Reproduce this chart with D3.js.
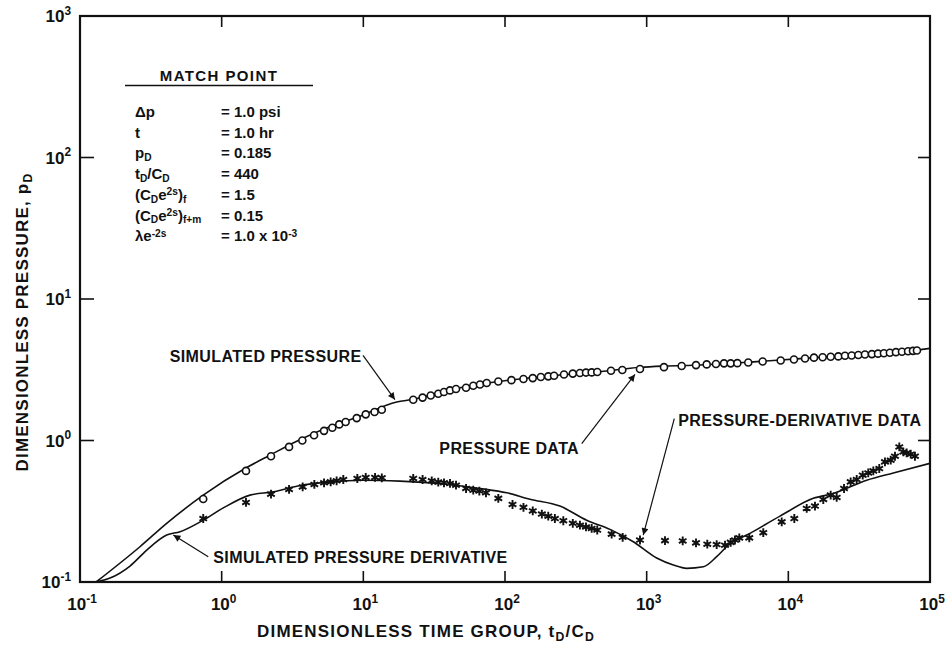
<!DOCTYPE html>
<html><head><meta charset="utf-8">
<script src="https://cdn.jsdelivr.net/npm/d3@7"></script>
<style>
html,body{margin:0;padding:0;background:#fff;}
svg text{font-family:"Liberation Sans",Arial,Helvetica,sans-serif;font-weight:bold;fill:#111;}
</style></head>
<body>
<svg id="chart" width="951" height="651"></svg>
<script>
// ---------------- DATA ----------------
const xTickExps = [-1, 0, 1, 2, 3, 4, 5];
const yTickExps = [-1, 0, 1, 2, 3];

const pressureT = [0.741,1.485,2.23,2.99,3.71,4.49,5.28,6.04,6.76,7.50,8.98,10.4,12.0,13.5,22.5,26.2,29.9,33.8,37.1,40.9,45.1,53.1,59.7,66.6,74.3,89.7,111,135,157,179,202,222,261,301,338,373,409,448,560,673,897,1325,1766,2230,2653,3085,3516,3918,4365,5212,6590,8830,10960,13120,15170,17470,19900,22540,25120,28000,31190,34750,38900,42950,47300,52100,57500,63400,70000,75800,80900];
const pressurePD = [0.386,0.610,0.774,0.901,1.00,1.09,1.17,1.23,1.30,1.35,1.44,1.53,1.59,1.65,1.94,2.01,2.08,2.14,2.20,2.26,2.31,2.36,2.44,2.49,2.55,2.61,2.67,2.72,2.76,2.81,2.84,2.87,2.93,2.97,3.00,3.02,3.03,3.05,3.11,3.15,3.20,3.30,3.36,3.41,3.45,3.47,3.51,3.51,3.52,3.56,3.62,3.68,3.74,3.80,3.85,3.88,3.91,3.93,3.97,3.99,4.02,4.05,4.08,4.11,4.14,4.17,4.21,4.24,4.27,4.30,4.33];

const derivT = [0.741,1.485,2.23,2.99,3.73,4.51,5.28,5.88,6.48,7.22,9.07,10.4,12.1,13.5,22.5,26.2,30.4,33.8,37.1,40.9,45.1,53.1,59.7,65.9,73.4,89.7,113,135,157,182,202,225,258,301,338,373,409,448,566,677,897,1347,1796,2230,2679,3120,3573,3918,4200,4506,5300,6654,8980,11020,13480,15420,17650,19900,21950,24720,27540,30380,33500,36650,39800,43850,48100,52800,56600,60700,64800,68400,73100,78300];
const derivPD = [0.281,0.365,0.418,0.451,0.470,0.489,0.502,0.510,0.519,0.530,0.539,0.548,0.548,0.545,0.539,0.530,0.519,0.508,0.502,0.497,0.483,0.458,0.446,0.439,0.427,0.390,0.353,0.337,0.318,0.302,0.292,0.281,0.271,0.260,0.252,0.245,0.239,0.233,0.218,0.207,0.198,0.196,0.195,0.189,0.185,0.184,0.182,0.1905,0.198,0.205,0.205,0.223,0.266,0.281,0.331,0.344,0.383,0.411,0.396,0.458,0.510,0.530,0.569,0.590,0.610,0.634,0.706,0.726,0.774,0.901,0.830,0.817,0.800,0.774];

const simPT = [0.130,0.265,0.409,0.741,1.502,2.19,3.39,5.51,8.98,17.2,22.4,40.9,92.2,208,468,897,1325,2380,5360,12080,27230,61400,100000];
const simPPD = [0.1,0.1775,0.2595,0.411,0.644,0.787,0.988,1.226,1.452,1.871,1.954,2.28,2.62,2.86,3.06,3.29,3.36,3.42,3.58,3.79,3.99,4.23,4.48];

const simDT = [0.128,0.163,0.2255,0.296,0.409,0.508,0.741,1.027,1.585,2.315,3.39,5.82,10.0,18.15,38.8,66.6,102.8,150,244,377,551,805,1177,1542,1917,2512,3120,3768,5360,8730,15000,20760,35730,55080,100000];
const simDPD = [0.1,0.1067,0.1297,0.168,0.2146,0.2265,0.2735,0.334,0.411,0.4335,0.4755,0.510,0.524,0.516,0.491,0.458,0.427,0.385,0.344,0.2735,0.2355,0.1924,0.1477,0.1318,0.1249,0.128,0.151,0.182,0.2207,0.292,0.390,0.422,0.524,0.590,0.69];

// annotations: [text, textT, textPD, anchor, arrowFromT, arrowFromPD, arrowToT, arrowToPD]
const annotations = [
  ["SIMULATED PRESSURE", 9.7, 3.58, "end", 9.95, 3.99, 16.7, 1.945],
  ["PRESSURE DATA", 34.4, 0.809, "start", 348, 0.952, 827, 2.93],
  ["PRESSURE-DERIVATIVE DATA", 1671, 1.266, "start", 1567, 1.429, 946, 0.2146],
  ["SIMULATED PRESSURE DERIVATIVE", 0.873, 0.1355, "start", 0.804, 0.151, 0.456, 0.2146]
];

const matchTitle = "MATCH POINT";
const matchLabels = [
  [["Δp",0]],
  [["t",0]],
  [["p",0],["D",1]],
  [["t",0],["D",1],["/C",0],["D",1]],
  [["(C",0],["D",1],["e",0],["2s",2],[")",0],["f",1]],
  [["(C",0],["D",1],["e",0],["2s",2],[")",0],["f+m",1]],
  [["λe",0],["-2s",2]]
];
const matchValues = [
  [["= 1.0 psi",0]],
  [["= 1.0 hr",0]],
  [["= 0.185",0]],
  [["= 440",0]],
  [["= 1.5",0]],
  [["= 0.15",0]],
  [["= 1.0 x 10",0],["-3",2]]
];

// ---------------- CHART ----------------
const svg = d3.select("#chart");
const L = 80, R = 930, T = 16, B = 582;
const x = d3.scaleLog().domain([0.1, 1e5]).range([L, R]);
const y = d3.scaleLog().domain([0.1, 1e3]).range([B, T]);

function richText(sel, parts, size, subScale, subDy, supDy) {
  const ss = subScale || 0.72;
  const sb = subDy === undefined ? 0.3 : subDy;
  const sp = supDy === undefined ? 0.42 : supDy;
  parts.forEach(([s, k]) => {
    const ts = sel.append("tspan").text(s);
    if (k === 1) ts.attr("font-size", size * ss).attr("dy", size * sb);
    else if (k === 2) ts.attr("font-size", size * ss).attr("dy", -size * sp);
    else ts.attr("font-size", size);
  });
  let shift = 0;
  sel.selectAll("tspan").each(function() {
    const d = +d3.select(this).attr("dy") || 0;
    if (d === 0 && shift !== 0) { d3.select(this).attr("dy", -shift); shift = 0; }
    else if (d !== 0) { if (shift !== 0) { d3.select(this).attr("dy", d - shift); } shift = d; }
  });
}

// frame
svg.append("rect").attr("x", L).attr("y", T).attr("width", R - L).attr("height", B - T)
  .attr("fill", "none").attr("stroke", "#111").attr("stroke-width", 2.2);

const xt = xTickExps.map(e => Math.pow(10, e));
const yt = yTickExps.map(e => Math.pow(10, e));
const tl = 11;
svg.append("g").selectAll("line").data(xt.slice(1, -1)).join("line")
  .attr("x1", d => x(d)).attr("x2", d => x(d)).attr("y1", B).attr("y2", B - tl)
  .attr("stroke", "#111").attr("stroke-width", 1.6);
svg.append("g").selectAll("line").data(xt.slice(1, -1)).join("line")
  .attr("x1", d => x(d)).attr("x2", d => x(d)).attr("y1", T).attr("y2", T + tl)
  .attr("stroke", "#111").attr("stroke-width", 1.6);
svg.append("g").selectAll("line").data(yt.slice(1, -1)).join("line")
  .attr("y1", d => y(d)).attr("y2", d => y(d)).attr("x1", L).attr("x2", L + tl + 3)
  .attr("stroke", "#111").attr("stroke-width", 1.6);
svg.append("g").selectAll("line").data(yt.slice(1, -1)).join("line")
  .attr("y1", d => y(d)).attr("y2", d => y(d)).attr("x1", R).attr("x2", R - tl - 1)
  .attr("stroke", "#111").attr("stroke-width", 1.6);

// tick labels
xTickExps.forEach(e => {
  const t = svg.append("text").attr("x", x(Math.pow(10, e)) + 2).attr("y", 610).attr("text-anchor", "middle");
  richText(t, [["10", 0], [String(e), 2]], 17, 0.7);
});
yTickExps.forEach(e => {
  const t = svg.append("text").attr("x", 71).attr("y", y(Math.pow(10, e)) + 6).attr("text-anchor", "end");
  richText(t, [["10", 0], [String(e), 2]], 17, 0.7);
});

// axis titles
const xt1 = svg.append("text").attr("x", 426).attr("y", 637).attr("text-anchor", "middle")
  .attr("letter-spacing", 1.2);
richText(xt1, [["DIMENSIONLESS TIME GROUP, t", 0], ["D", 1], ["/C", 0], ["D", 1]], 17, 0.72, 0.25);
const yt1 = svg.append("text").attr("transform", "translate(28,322) rotate(-90)").attr("text-anchor", "middle")
  .attr("letter-spacing", 1.2);
richText(yt1, [["DIMENSIONLESS PRESSURE, p", 0], ["D", 1]], 17, 0.72, 0.25);

// clip
svg.append("clipPath").attr("id", "clip").append("rect").attr("x", L).attr("y", T).attr("width", R - L).attr("height", B - T);

const line = d3.line().x(d => x(d[0])).y(d => y(d[1])).curve(d3.curveMonotoneX);
const plot = svg.append("g").attr("clip-path", "url(#clip)");
plot.append("path").datum(d3.zip(simPT, simPPD)).attr("d", line)
  .attr("fill", "none").attr("stroke", "#111").attr("stroke-width", 1.6);
plot.append("path").datum(d3.zip(simDT, simDPD)).attr("d", line)
  .attr("fill", "none").attr("stroke", "#111").attr("stroke-width", 1.6);

// pressure data (open circles)
plot.append("g").selectAll("circle").data(d3.zip(pressureT, pressurePD)).join("circle")
  .attr("cx", d => x(d[0])).attr("cy", d => y(d[1])).attr("r", 3.5)
  .attr("fill", "#fff").attr("stroke", "#111").attr("stroke-width", 1.6);

// derivative data (asterisks)
const ast = (r) => {
  let p = "";
  for (let i = 0; i < 3; i++) {
    const a = Math.PI / 2 + i * Math.PI / 3;
    const dx = r * Math.cos(a), dy = r * Math.sin(a);
    p += `M${-dx},${-dy}L${dx},${dy}`;
  }
  return p;
};
plot.append("g").selectAll("path").data(d3.zip(derivT, derivPD)).join("path")
  .attr("transform", d => `translate(${x(d[0])},${y(d[1])})`)
  .attr("d", ast(4.4)).attr("fill", "none").attr("stroke", "#111").attr("stroke-width", 1.9);

// arrowhead marker
svg.append("defs").append("marker").attr("id", "ah").attr("viewBox", "0 0 10 10")
  .attr("refX", 10).attr("refY", 5).attr("markerWidth", 11).attr("markerHeight", 7)
  .attr("markerUnits", "userSpaceOnUse").attr("orient", "auto")
  .append("path").attr("d", "M0,0L10,5L0,10Z").attr("fill", "#111");

annotations.forEach(a => {
  svg.append("text").attr("x", x(a[1])).attr("y", y(a[2])).attr("text-anchor", a[3])
    .attr("font-size", 16).attr("letter-spacing", 0.4).text(a[0]);
  svg.append("line").attr("x1", x(a[4])).attr("y1", y(a[5])).attr("x2", x(a[6])).attr("y2", y(a[7]))
    .attr("stroke", "#111").attr("stroke-width", 1.2).attr("marker-end", "url(#ah)");
});

// match point table
svg.append("text").attr("x", 219).attr("y", 81).attr("text-anchor", "middle")
  .attr("font-size", 15).attr("letter-spacing", 1.4).text(matchTitle);
svg.append("line").attr("x1", 125).attr("x2", 313).attr("y1", 85.5).attr("y2", 85.5)
  .attr("stroke", "#111").attr("stroke-width", 1.6);
matchLabels.forEach((parts, i) => {
  const yy = 117 + i * 20.7;
  const t = svg.append("text").attr("x", 135).attr("y", yy);
  richText(t, parts, 15, 0.68, 0.18, 0.3);
  const v = svg.append("text").attr("x", 221).attr("y", yy);
  richText(v, matchValues[i], 15, 0.68, 0.18, 0.3);
});
</script>
</body></html>
